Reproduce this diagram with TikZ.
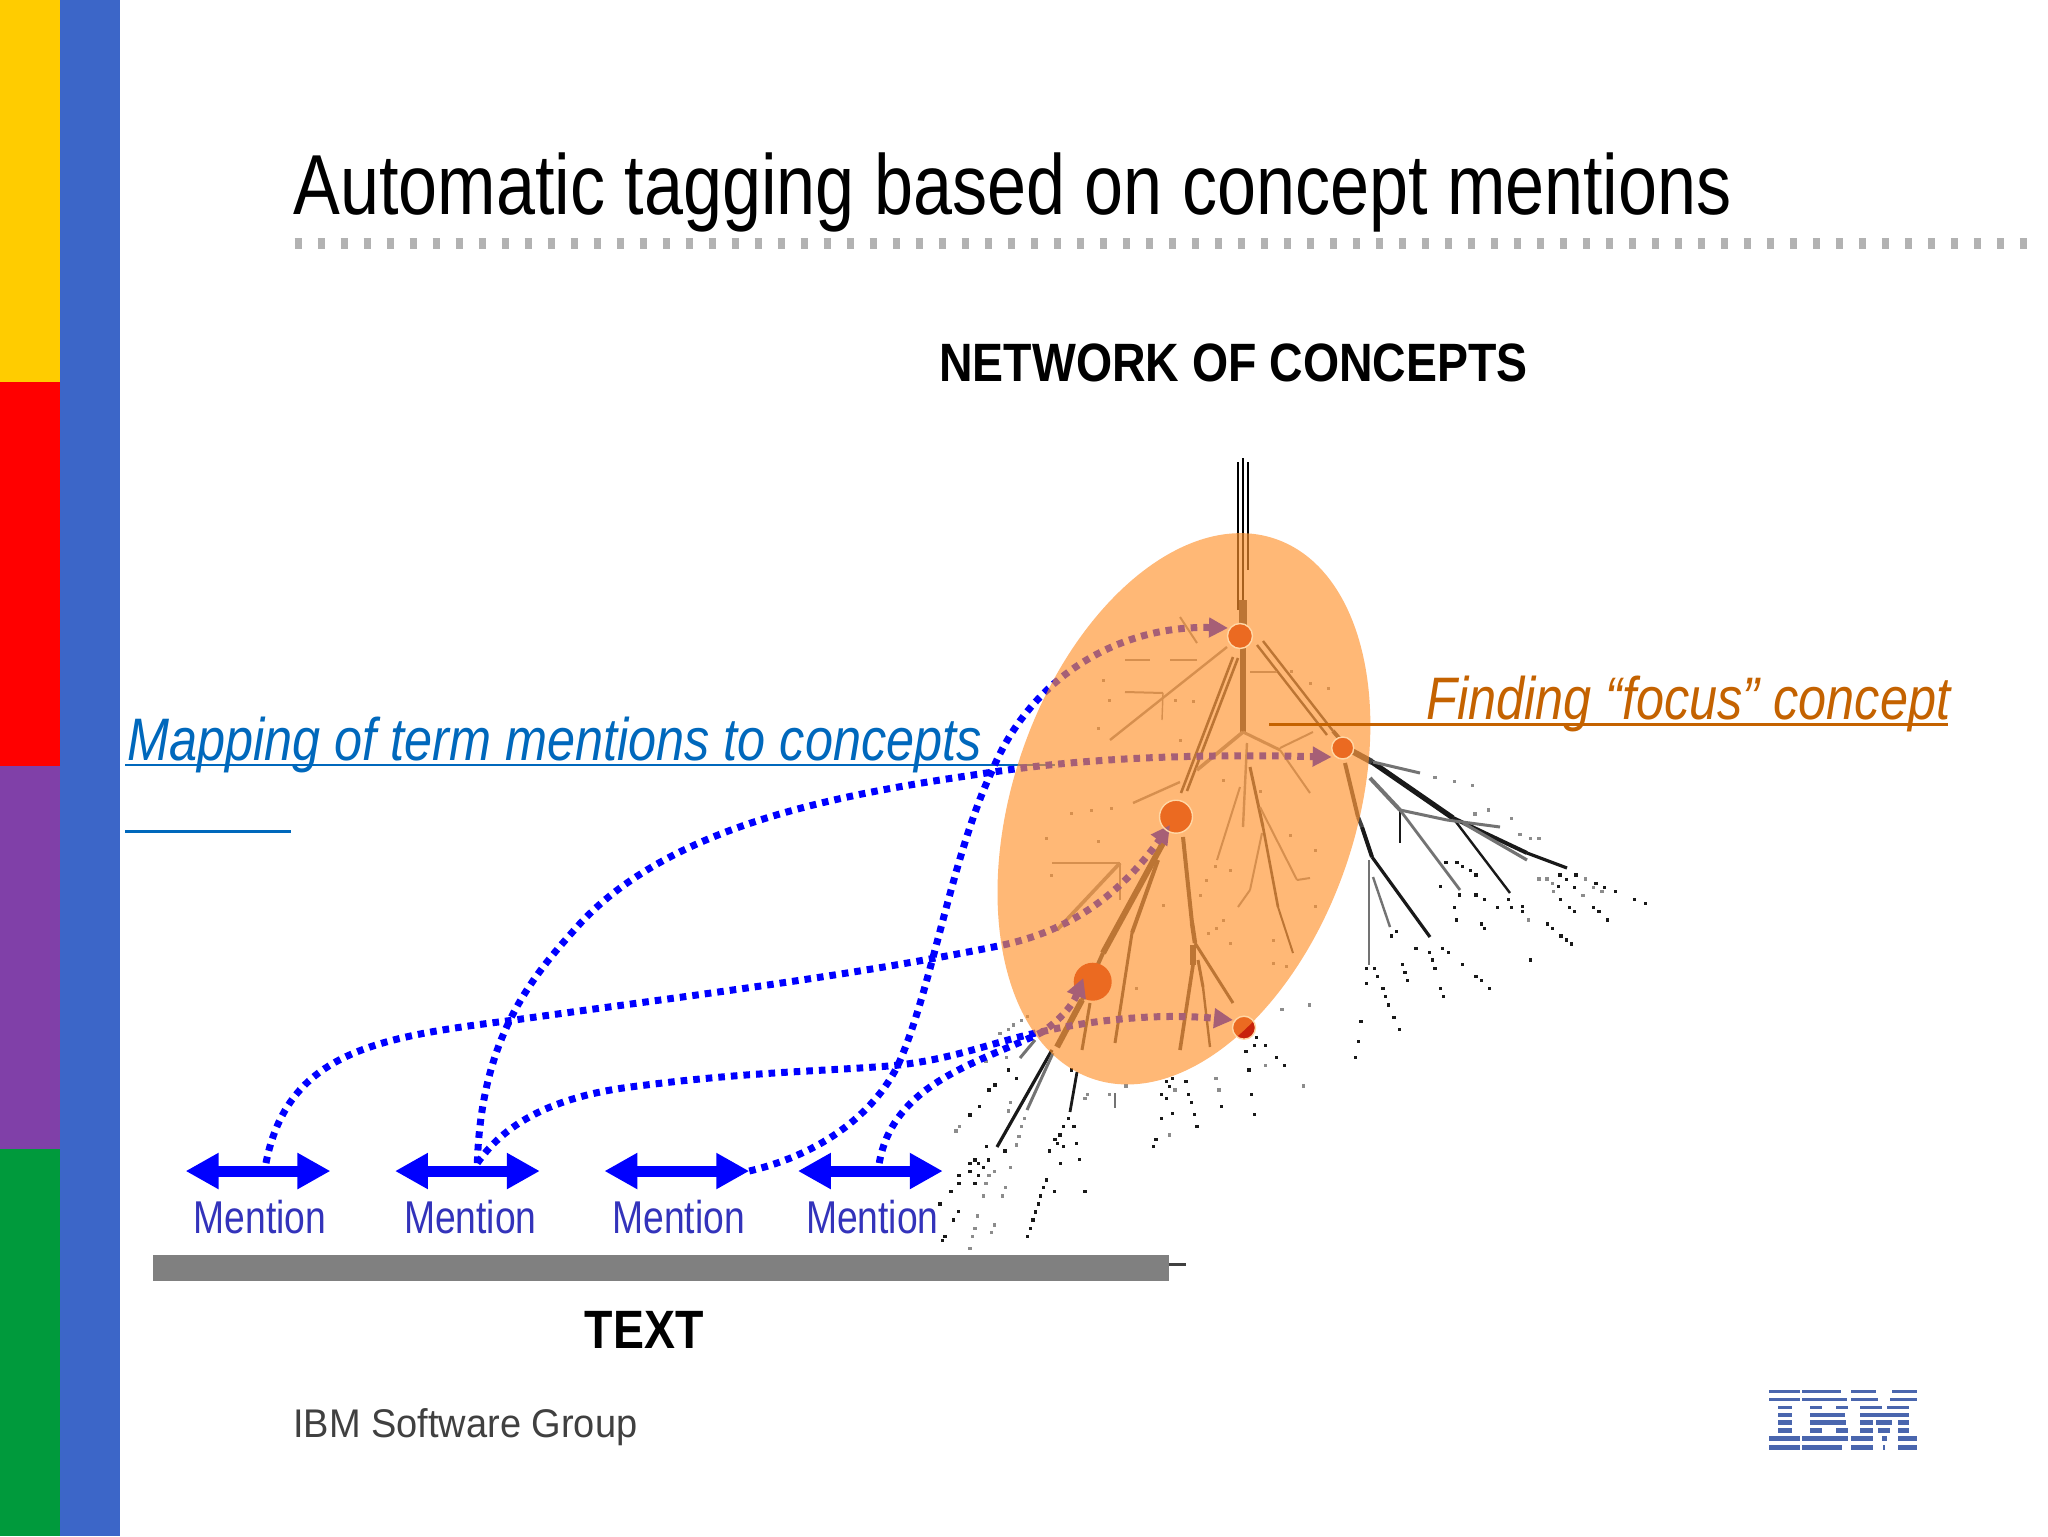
\documentclass[tikz,border=0pt]{standalone}
\usepackage{fontspec}
\setmainfont{Liberation Sans}
\usetikzlibrary{arrows.meta,shapes.geometric}
\definecolor{barYellow}{HTML}{FFCC00}
\definecolor{barRed}{HTML}{FF0000}
\definecolor{barPurple}{HTML}{8040A8}
\definecolor{barGreen}{HTML}{009A3C}
\definecolor{barBlue}{HTML}{3C66C8}
\definecolor{linkBlue}{HTML}{0000FF}
\definecolor{mapBlue}{HTML}{0068BC}
\definecolor{focusOrange}{HTML}{C46200}
\definecolor{mentionBlue}{HTML}{3333BB}
\definecolor{ibmBlue}{HTML}{4A66AE}
\definecolor{conceptRed}{HTML}{C8220B}
\definecolor{ringTint}{HTML}{FFD7A5}
\tikzset{
  sized/.style={font=\fontsize{#1}{#1}\selectfont},
  label/.style={anchor=base west,inner sep=0pt},
  twig/.style 2 args={black!#2,line width=#1pt},
  concept/.style={circle,fill=conceptRed,inner sep=0pt,minimum size=#1},
  mentionarrow/.style={linkBlue,line width=5.5pt,{Triangle[length=16.5pt,width=17pt]}-{Triangle[length=16.5pt,width=17pt]}},
  maplink/.style={linkBlue,line width=3.5pt,dash pattern=on 3.3pt off 3pt},
  mauvetip/.style={-{Triangle[length=9.5pt,width=9.5pt]}},
}
\begin{document}
\begin{tikzpicture}[x=.4962pt,y=-.4962pt]
    \useasboundingbox (0,0) rectangle (2063.7,1547.8);
    \fill[white] (0,0) rectangle (2063.7,1547.8);
    % side bars
    \fill[barYellow] (0,0) rectangle (60,385);
    \fill[barRed] (0,385) rectangle (60,772);
    \fill[barPurple] (0,772) rectangle (60,1158);
    \fill[barGreen] (0,1158) rectangle (60,1547.8);
    \fill[barBlue] (60,0) rectangle (121,1547.8);
    % title and dotted rule
    \node[label,sized=42.6,xscale=.823] (title) at (295.3,215.7) {Automatic tagging based on concept mentions};
    \draw[black!30,line width=5.5pt,dash pattern=on 3.5pt off 8pt] (297,245) -- (2049,245);
    \node[font=\bfseries\fontsize{27}{27}\selectfont,xscale=.86] (network) at (1243,366) {NETWORK OF CONCEPTS};
    % the tree, in pixels of the slide
    \begin{scope}[x=.5pt,y=-.5pt]
    \foreach \x/\ya/\yb in {1238/462/610,1243/458/610,1248/462/570}
        \draw[twig={.7}{100}] (\x,\ya) -- (\x,\yb);
    % strong branches
    \foreach \ax/\ay/\bx/\by/\w in {
        1243/600/1243/636/4, 1243/636/1243/733/3, 1257/645/1327/735/1.2, 1263/641/1333/731/1.2, 1333/731/1345/745/2,
        1233/657/1181/793/1.3, 1238/658/1187/791/1.3, 1163/843/1103/953/3, 1103/953/1082/1000/2, 1082/1000/1057/1047/3,
        1158/860/1132/933/2, 1132/933/1115/1043/1.5, 1183/837/1192/923/2, 1192/923/1195/943/2.2, 1195/943/1233/1003/1.5,
        1193/945/1193/965/3, 1193/965/1180/1050/1.8, 1198/960/1203/987/1.5, 1203/987/1210/1047/1.2, 1090/1003/1082/1050/1.5,
        1250/767/1263/827/1.5, 1263/827/1278/907/1.3, 1278/907/1293/953/1, 1345/763/1358/817/2, 1358/817/1362/827/2, 1350/750/1372/762/3}
        \draw[twig={\w}{75}] (\ax,\ay) -- (\bx,\by);
    % faint branches
    \foreach \ax/\ay/\bx/\by/\w in {
        1247/743/1243/827/1.2, 1240/787/1217/860/1, 1262/833/1250/890/1, 1250/890/1238/907/1, 1260/807/1297/880/1, 1297/880/1310/878/1,
        1243/732/1197/770/1.8, 1243/732/1280/750/1.5, 1280/750/1310/793/1, 1280/748/1313/732/1, 1180/782/1133/803/1.2,
        1120/863/1052/863/1.3, 1120/863/1120/900/.8, 1120/863/1057/930/1.8,
        1163/693/1125/692/1, 1163/693/1162/720/.7, 1227/647/1110/740/1.2, 1197/660/1170/660/1.2, 1150/660/1125/660/1.2, 1197/643/1180/617/1, 1250/672/1277/672/1}
        \draw[twig={\w}{45}] (\ax,\ay) -- (\bx,\by);
    % black branches outside the oval
    \foreach \ax/\ay/\bx/\by/\w in {
        1372/762/1453/818/2.6, 1453/818/1527/853/2, 1527/853/1567/868/1.6, 1362/827/1372/857/2, 1372/857/1430/937/1.6,
        1453/818/1510/893/1.2, 1052/1050/997/1147/1.6, 1077/1072/1070/1112/1.4, 1400/810/1400/843/1}
        \draw[twig={\w}{90}] (\ax,\ay) -- (\bx,\by);
    % grey branches outside the oval
    \foreach \ax/\ay/\bx/\by/\w in {
        1373/762/1420/773/1.5, 1370/778/1400/810/2, 1400/810/1460/890/1.4, 1400/810/1447/820/1.5, 1447/820/1500/827/1.5,
        1463/823/1527/860/1.6, 1369/860/1369/965/1.2, 1373/877/1390/927/1.2, 1053/1053/1027/1110/1.5, 1035/1040/1020/1058/1.5,
        1115/1093/1115/1108/1.2}
        \draw[twig={\w}{55}] (\ax,\ay) -- (\bx,\by);
    % dark specks, right
    \foreach \u/\v in {660/465,680/478,708/465,655/500,703/502,768/490,793/502,826/515,884/538,917/550,662/538,688/562,703/575,760/562,777/575,802/600,622/612,637/625,663/648,680/660,695/672,572/720,505/538,515/562,548/560,548/575,408/525,433/538,473/562,343/562,350/600,425/612,433/625,318/428,351/428,367/440,392/452,408/465,302/500,358/525,228/685,268/697,277/720,285/745,308/685,325/697,368/733,408/770,425/782,449/806,302/806,310/830,80/745,104/745,112/770,129/806,137/830,145/855,162/892,178/928,63/904,55/965,46/1012,187/733,195/757,203/782,80/790,155/648,170/635}
        \fill[black!90] ({1340+\u/3-1.7},{720+\v/3-1.7}) rectangle +(3.4,3.4);
    % grey specks, right
    \foreach \u/\v in {597/477,621/477,637/490,729/527,737/477,760/502,786/515,640/515,572/355,597/355,540/343,515/295,445/270,405/282,285/172,397/196,343/185,565/600}
        \fill[black!45] ({1340+\u/3-1.7},{720+\v/3-1.7}) rectangle +(3.4,3.4);
    % dark specks, below
    \foreach \u/\v in {265/210,290/235,207/270,225/255,178/320,150/345,200/440,255/453,150/490,165/480,175/490,190/503,205/480,150/515,175/527,117/527,117/550,165/550,93/575,60/612,115/635,100/660,75/710,67/722,454/210,445/355,462/380,430/380,420/405,405/418,412/430,430/440,388/453,470/430,478/478,422/490,380/540,404/575,495/575,370/563,362/588,355/612,347/636,339/660,331/685,322/710,740/245,757/235,748/260,798/245,725/283,740/295,806/283,814/307,823/343,831/380,724/355,708/418,700/440,757/340,904/320,995/283,1003/343,987/210,1003/137,1036/137,1069/173,1093/197,1010/113,978/155}
        \fill[black!90] ({920+\u/3-1.7},{1000+\v/3-1.7}) rectangle +(3.4,3.4);
    % grey specks, below
    \foreach \u/\v in {240/100,265/88,280/75,305/62,322/50,260/172,157/197,198/185,118/380,108/393,272/308,265/333,313/355,305/380,297/410,290/435,272/503,223/515,207/527,198/550,190/588,257/563,248/588,173/648,165/685,158/710,150/745,223/675,215/698,495/295,503/283,568/283,618/258,765/270,897/270,888/235,1036/197,1086/28,1168/15,1150/258,748/405}
        \fill[black!45] ({920+\u/3-1.7},{1000+\v/3-1.7}) rectangle +(3.4,3.4);
    % specks inside the oval
    \foreach \u/\v in {250/240,268/300,235/385,480/420,520/305,465/300,215/630,275/625,155/640,78/715,235/725,95/825,630/810,585/800,540/885,610/960,590/985,630/1030,800/1100,760/1020,885/920,810/705,885/750,610/540,720/575,350/1165,430/915,560/840,565/1000,760/1090,925/265,870/250,815/215}
        \fill[black!45] ({1020+\u/3-1.5},{600+\v/3-1.5}) rectangle +(3,3);
    % concepts
    \node[concept=12.5pt] (cTop) at (1240,636) {};
    \node[concept=11pt] (cFocus) at (1342.7,748) {};
    \node[concept=16.5pt] (cMid) at (1176,816.7) {};
    \node[concept=19pt] (cLow) at (1092.7,981.7) {};
    \node[concept=11.5pt] (cEnd) at (1244,1027.7) {};
    \coordinate (tipTop) at (1228,628);
    \coordinate (tipFocus) at (1331.7,757);
    \coordinate (tipMid) at (1170,825);
    \coordinate (tipLow) at (1083.3,978);
    \coordinate (tipEnd) at (1233,1020);
    \end{scope}
    % mapping label sits under the ellipse
    \node[label,mapBlue,font=\itshape\fontsize{30}{30}\selectfont,xscale=.84] (mapping) at (128,766) {Mapping of term mentions to concepts};
    \draw[mapBlue,line width=1.2pt] (126,771) -- (1063,771);
    \draw[mapBlue,line width=1.2pt] (126,838) -- (293,838);
    % mention arrows
    \foreach \n/\x in {a/260,b/471,c/682,d/877}{
        \coordinate (l\n) at (\x-73,1180);
        \coordinate (r\n) at (\x+73,1180);
        \draw[mentionarrow] (l\n) -- (r\n);
    }
    \coordinate (ta) at (268,1172);
    \coordinate (tb) at (481,1172);
    \coordinate (td) at (886,1172);
    % links
    \draw[maplink,mauvetip] (ta) .. controls (290,1060) and (380,1045) .. (517,1028) .. controls (680,1005) and (850,985) .. (1007,953) .. controls (1080,938) and (1130,900) .. (tipMid);
    \draw[maplink,mauvetip] (tb) .. controls (485,1040) and (540,980) .. (586,929) .. controls (680,830) and (850,800) .. (987,780) .. controls (1100,762) and (1220,760) .. (tipFocus);
    \draw[maplink,mauvetip] (tb) .. controls (510,1130) and (560,1106) .. (630,1096) .. controls (750,1080) and (820,1080) .. (898,1074) .. controls (960,1068) and (1000,1050) .. (1048,1040) .. controls (1090,1030) and (1160,1020) .. (tipEnd);
    \draw[maplink,mauvetip] (rc) .. controls (840,1160) and (890,1110) .. (908,1066) .. controls (940,990) and (960,860) .. (1000,776) .. controls (1040,680) and (1130,630) .. (tipTop);
    \draw[maplink,mauvetip] (td) .. controls (900,1090) and (990,1070) .. (1050,1040) .. controls (1065,1030) and (1080,1015) .. (tipLow);
    % ellipse over everything so far
    \node[ellipse,fill={rgb,255:red,255;green,146;blue,46},fill opacity=.65,minimum width=171.7pt,minimum height=285pt,inner sep=0pt,rotate=-18.6] (focusArea) at (1193,815) {};
    % pale rings round the concepts
    \foreach \n/\r in {cTop/6.25,cFocus/5.5,cMid/8.25,cEnd/5.75}
        \draw[ringTint,line width=.7pt] (\n.center) circle (\r pt);
    % focus label
    \node[label,focusOrange,font=\itshape\fontsize{30}{30}\selectfont,xscale=.84] (finding) at (1437,725) {Finding “focus” concept};
    \draw[focusOrange,line width=1.2pt] (1279,730) -- (1963,730);
    % mention labels
    \foreach \n/\x in {a/262,b/474,c/684,d/879}
        \node[sized=23,mentionBlue,xscale=.81] (mention\n) at (\x,1226) {Mention};
    % text bar
    \fill[black!50] (154,1265) rectangle (1178,1291);
    \draw[black!75,line width=1.5pt] (1178,1274) -- (1195,1274);
    \node[font=\bfseries\fontsize{27}{27}\selectfont,xscale=.86] (textlabel) at (649,1340) {TEXT};
    % footer
    \node[label,sized=20,black!75,xscale=.95] (group) at (295,1448) {IBM Software Group};
    % logo
    \begin{scope}[x=.5pt,y=-.5pt]
    \foreach \y/\h/\segs in {
        1391/3/{508/600,606/722,753/828,877/952},
        1399/3/{508/600,606/742,753/835,870/952},
        1407/3/{533/575,631/665,707/745,779/845,860/926},
        1415/3.5/{533/575,631/735,779/926},
        1422.5/5/{533/575,631/737,779/818,828/877,893/926},
        1430.5/5/{533/575,631/665,707/745,779/818,835/870,893/926},
        1438.5/5/{508/600,606/745,753/818,845/860,893/952},
        1447/5/{508/600,606/725,753/818,848/855,893/952}}
        \foreach \a/\b in \segs
            \fill[ibmBlue] ({1600+\a/3},{\y-\h/2}) rectangle ({1600+\b/3},{\y+\h/2});
    \end{scope}
\end{tikzpicture}
\end{document}
